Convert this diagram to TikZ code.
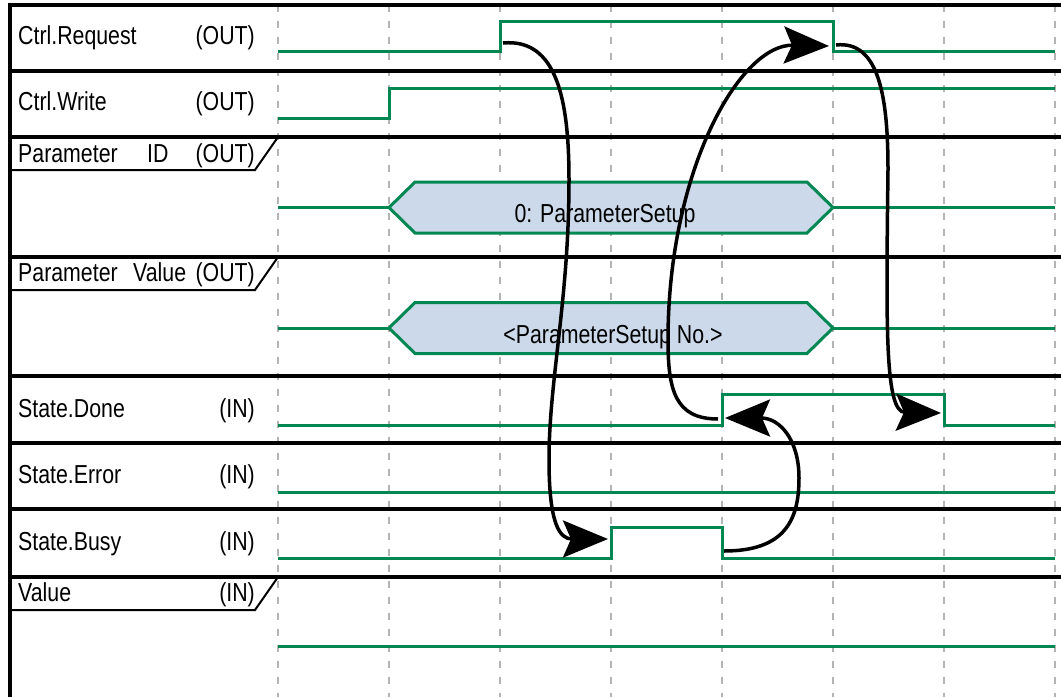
\documentclass[tikz,border=0pt]{standalone}
\usepackage{fontspec}
\setmainfont[FakeStretch=0.82]{Liberation Sans}
\usetikzlibrary{arrows.meta}
\definecolor{siggreen}{HTML}{008752}
\definecolor{busfill}{HTML}{CCD9EA}
\definecolor{gridgray}{HTML}{B4B4B4}

\begin{document}
\begin{tikzpicture}[x=1pt,y=-1pt,
    lbl/.style={font=\fontsize{26}{30}\selectfont, inner sep=0pt},
    rowline/.style={line width=4pt},
    tab/.style={line width=2pt},
    wave/.style={draw=siggreen, line width=3pt},
    bus/.style={wave, fill=busfill},
    gridline/.style={draw=gridgray, line width=1.5pt, dash pattern=on 7pt off 9pt},
    flow/.style={line width=3.5pt, -{Stealth[length=45pt,width=37pt,inset=8pt]}}]

      \useasboundingbox (0,0) rectangle (1061,697);

      \foreach \x in {278,389,...,1055}
        \draw[gridline] (\x,5) -- (\x,697);

      \foreach \y in {5,71,137,257,376,443,509,577}
        \draw[rowline] (8,\y) -- (1061,\y);
      \draw[rowline] (10,3) -- (10,697);

      \foreach \y in {137,257,577}
        \draw[tab] (10,\y+33) -- (255,\y+33) -- (278,\y);

      \foreach \y/\sig/\dir [count=\i] in {44/Ctrl.Request/{(OUT)}, 110/Ctrl.Write/{(OUT)},
          417/State.Done/{(IN)}, 483/State.Error/{(IN)}, 550/State.Busy/{(IN)}} {
        \node[lbl, anchor=base west] (name_\i) at (18,\y) {\sig};
        \node[lbl, anchor=base east] (dir_\i) at (255,\y) {\dir};
      }

      \node[lbl, anchor=base west] (pid_name) at (18,162) {Parameter};
      \node[lbl, anchor=base west] (pid_id) at (147,162) {ID};
      \node[lbl, anchor=base east] (pid_dir) at (255,162) {(OUT)};
      \node[lbl, anchor=base west] (pval_name) at (18,281) {Parameter};
      \node[lbl, anchor=base west] (pval_val) at (133,281) {Value};
      \node[lbl, anchor=base east] (pval_dir) at (255,281) {(OUT)};
      \node[lbl, anchor=base west] (val_name) at (18,601) {Value};
      \node[lbl, anchor=base east] (val_dir) at (255,601) {(IN)};

      \draw[wave] (278,51) -- (500,51) -- (500,21) -- (833,21) -- (833,51) -- (1055,51);
      \draw[wave] (278,118) -- (389,118) -- (389,88) -- (1055,88);
      \draw[wave] (278,207.5) -- (389,207.5) (833,207.5) -- (1055,207.5);
      \draw[bus] (389,207.5) -- (415,182) -- (807,182) -- (833,207.5) -- (807,233) -- (415,233) -- cycle;
      \node[lbl, anchor=base] (pid_text) at (605,222) {0: ParameterSetup};
      \draw[wave] (278,328) -- (389,328) (833,328) -- (1055,328);
      \draw[bus] (389,328) -- (415,302.5) -- (807,302.5) -- (833,328) -- (807,353.5) -- (415,353.5) -- cycle;
      \node[lbl, anchor=base] (pval_text) at (613,343) {<ParameterSetup No.>};
      \draw[wave] (278,425) -- (722,425) -- (722,394) -- (944,394) -- (944,425) -- (1055,425);
      \draw[wave] (278,492) -- (1055,492);
      \draw[wave] (278,558) -- (611,558) -- (611,527) -- (722,527) -- (722,558) -- (1055,558);
      \draw[wave] (278,646) -- (1055,646);

      \coordinate (req_up) at (503,43);
      \coordinate (req_down) at (836,45);
      \coordinate (req_in) at (829,46);
      \coordinate (busy_up) at (608,539);
      \coordinate (busy_down) at (724,551);
      \coordinate (done_up) at (718,419);
      \coordinate (done_in) at (725,418);
      \coordinate (done_down) at (941,413);

      \draw[flow] (req_up) .. controls (557,38) and (569,100) .. (569,180)
        .. controls (569,300) and (549,380) .. (549,460)
        .. controls (549,525) and (560,539) .. (busy_up);
      \draw[flow] (busy_down) .. controls (785,551) and (799,520) .. (799,478)
        .. controls (799,440) and (780,418) .. (done_in);
      \draw[flow] (done_up) .. controls (675,419) and (668,390) .. (668,340)
        .. controls (668,170) and (740,44) .. (req_in);
      \draw[flow] (req_down) .. controls (880,40) and (888,100) .. (888,170)
        .. controls (886,330) and (885,412) .. (done_down);
    \end{tikzpicture}
\end{document}
